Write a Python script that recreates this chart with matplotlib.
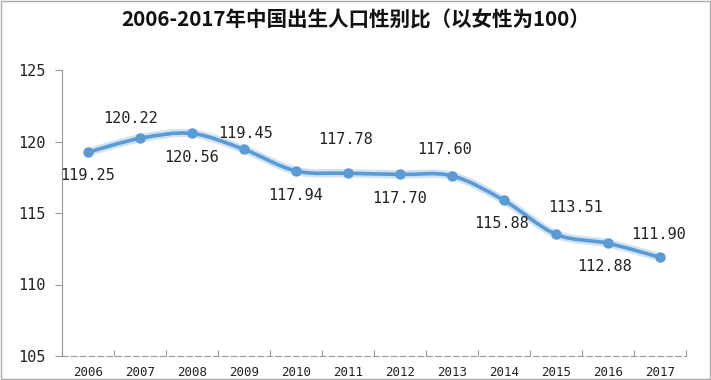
import matplotlib
matplotlib.use("Agg")
import matplotlib.pyplot as plt
from matplotlib.path import Path
from matplotlib.patches import PathPatch, Rectangle
import numpy as np

# data
years = ['2006', '2007', '2008', '2009', '2010', '2011',
         '2012', '2013', '2014', '2015', '2016', '2017']
ratio = [119.25, 120.22, 120.56, 119.45, 117.94, 117.78,
         117.70, 117.60, 115.88, 113.51, 112.88, 111.90]
y_ticks = [105, 110, 115, 120, 125]
title = '2006-2017年中国出生人口性别比（以女性为100）'

# label placement (pixels, x right / y up)
label_offsets = [(0, -23), (-9, 20), (0, -24), (2, 16), (0, -25), (-2, 34),
                 (0, -24), (-7, 26), (-2, -23), (20, 27), (-3, -23), (-1, 23)]

line_color = '#5B9BD5'
mono = 'DejaVu Sans Mono'


def smooth_path(xs, ys):
    # catmull-rom style bezier through the points (like excel's smoothed line)
    pts = np.column_stack([xs, ys]).astype(float)
    n = len(pts)
    verts = [pts[0]]
    codes = [Path.MOVETO]
    for i in range(n - 1):
        p0 = pts[i - 1] if i > 0 else pts[i]
        p1 = pts[i]
        p2 = pts[i + 1]
        p3 = pts[i + 2] if i + 2 < n else pts[i + 1]
        c1 = p1 + (p2 - p0) / 6.0
        c2 = p2 - (p3 - p1) / 6.0
        verts += [c1, c2, p2]
        codes += [Path.CURVE4] * 3
    return Path(verts, codes)


fig = plt.figure(figsize=(7.11, 3.8), dpi=100)
ax = fig.add_axes([62 / 711, 1 - 356 / 380, 624 / 711, 286 / 380])

x = np.arange(len(years))
path = smooth_path(x, ratio)

# soft glow then the line itself
ax.add_patch(PathPatch(path, facecolor='none', edgecolor='#BDD7EE',
                       lw=6, alpha=0.7, capstyle='round'))
ax.add_patch(PathPatch(path, facecolor='none', edgecolor=line_color,
                       lw=2.6, capstyle='round'))
ax.plot(x, ratio, 'o', color=line_color, markersize=6.5, zorder=3)

for xi, v, (dx, dy) in zip(x, ratio, label_offsets):
    ax.annotate('%.2f' % v, (xi, v), xytext=(dx, dy), textcoords='offset pixels',
                ha='center', va='center', fontsize=11, family=mono, color='#222222')

ax.set_xlim(-0.5, len(years) - 0.5)
ax.set_ylim(105, 125)
ax.set_yticks(y_ticks)

# category labels, ticks between categories
ax.set_xticks(x, minor=True)
ax.set_xticklabels(years, minor=True)
ax.set_xticks(np.arange(len(years) + 1) - 0.5)
ax.set_xticklabels([])
ax.tick_params(axis='x', which='minor', length=0, pad=7, labelsize=9,
               labelfontfamily=mono, labelcolor='#222222')
ax.tick_params(axis='x', which='major', direction='in', length=4, color='#999999')
ax.tick_params(axis='y', length=5, color='#999999', pad=7, labelsize=11,
               labelfontfamily=mono, labelcolor='#222222')

for side in ['top', 'right']:
    ax.spines[side].set_visible(False)
ax.spines['left'].set_color('#999999')
ax.spines['bottom'].set_color('#999999')
ax.spines['bottom'].set_linestyle((0, (5, 3)))

fig.text(0.5, 1 - 20 / 380, title, ha='center', va='center', fontsize=14.8,
         fontweight='bold', family=['Noto Sans CJK SC', 'DejaVu Sans'], color='#111111')

# thin frame round the picture
fig.patches.append(Rectangle((0.002, 0.002), 0.996, 0.996, transform=fig.transFigure,
                             fill=False, edgecolor='#AAAAAA', lw=1))

fig.savefig('out.png', dpi=100)
